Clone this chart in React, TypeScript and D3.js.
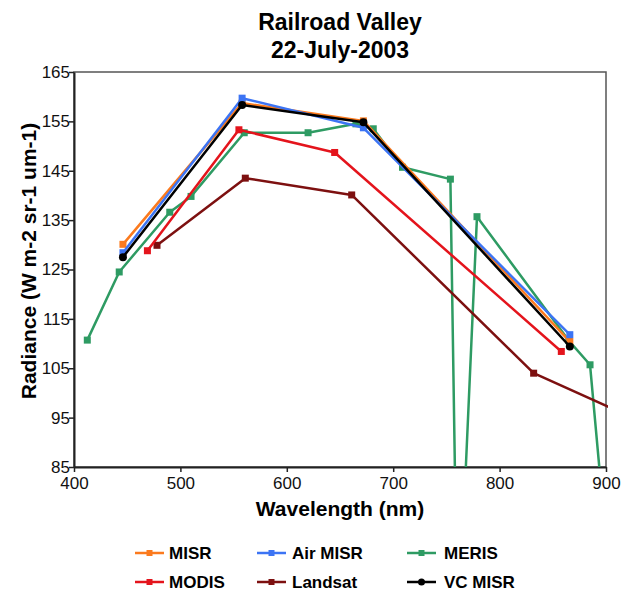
import React, { useEffect, useRef } from "react";
import * as d3 from "d3";

// wavelengths (nm) and radiances (W m-2 sr-1 um-1)
const misrWl = [446, 558, 672, 866];
const misrVal = [130.1, 158.7, 155.1, 110.4];
const airMisrVal = [128.4, 159.7, 153.7, 111.8];
const vcMisrVal = [127.5, 158.3, 154.8, 109.4];
const modisWl = [469, 555, 645, 858];
const modisVal = [128.8, 153.3, 148.7, 108.4];
const landsatWl = [478, 561, 661, 832, 1650];
const landsatVal = [129.9, 143.5, 140.1, 104.0, 24.6];
const merisWl = [412.5, 442.5, 490, 510, 560, 620, 665, 681.25, 708.75, 753.75, 760.625, 778.75, 865, 885, 900];
const merisVal = [110.7, 124.5, 136.6, 139.8, 152.7, 152.7, 154.5, 153.5, 145.7, 143.3, 48, 135.7, 110.6, 105.7, 70];

const xTicks = [400, 500, 600, 700, 800, 900];
const yTicks = [85, 95, 105, 115, 125, 135, 145, 155, 165];

type Series = { name: string; color: string; marker: "square" | "circle"; wl: number[]; val: number[] };

const series: Series[] = [
  { name: "MERIS", color: "#2e9b63", marker: "square", wl: merisWl, val: merisVal },
  { name: "Landsat", color: "#7d1010", marker: "square", wl: landsatWl, val: landsatVal },
  { name: "MODIS", color: "#e4141c", marker: "square", wl: modisWl, val: modisVal },
  { name: "MISR", color: "#fb7a1e", marker: "square", wl: misrWl, val: misrVal },
  { name: "Air MISR", color: "#3c74f4", marker: "square", wl: misrWl, val: airMisrVal },
  { name: "VC MISR", color: "#000000", marker: "circle", wl: misrWl, val: vcMisrVal },
];

// legend layout: rows of names
const legendRows = [
  ["MISR", "Air MISR", "MERIS"],
  ["MODIS", "Landsat", "VC MISR"],
];

export default function App() {
  const ref = useRef<SVGSVGElement>(null);

  useEffect(() => {
    const svg = d3.select(ref.current);
    svg.selectAll("*").remove();

    const width = 628;
    const height = 591;
    const margin = { top: 72, left: 74, right: 22, bottom: 124 };
    const font = "'Liberation Sans', Arial, Helvetica, sans-serif";

    const x = d3.scaleLinear().domain([400, 900]).range([margin.left, width - margin.right]);
    const y = d3.scaleLinear().domain([85, 165]).range([height - margin.bottom, margin.top]);

    svg.append("rect").attr("width", width).attr("height", height).attr("fill", "#fff");

    // title
    const title = svg.append("text")
      .attr("x", 340).attr("text-anchor", "middle")
      .style("font-family", font).style("font-weight", "bold").style("font-size", "23px");
    title.append("tspan").attr("x", 340).attr("y", 30).text("Railroad Valley");
    title.append("tspan").attr("x", 340).attr("y", 58).text("22-July-2003");

    // frame
    svg.append("rect")
      .attr("x", x(400)).attr("y", y(165))
      .attr("width", x(900) - x(400)).attr("height", y(85) - y(165))
      .attr("fill", "none").attr("stroke", "#555").attr("stroke-width", 1.5);

    const xAxis = svg.append("g")
      .attr("transform", `translate(0,${y(85)})`)
      .call(d3.axisBottom(x).tickValues(xTicks).tickSize(5).tickSizeOuter(0).tickFormat(d3.format("d")));
    const yAxis = svg.append("g")
      .attr("transform", `translate(${x(400)},0)`)
      .call(d3.axisLeft(y).tickValues(yTicks).tickSize(5).tickSizeOuter(0).tickFormat(d3.format("d")));
    [xAxis, yAxis].forEach((g) => {
      g.select(".domain").attr("stroke", "#222").attr("stroke-width", 2);
      g.selectAll(".tick line").attr("stroke", "#222").attr("stroke-width", 1.5);
      g.selectAll(".tick text")
        .attr("fill", "#111")
        .style("font-family", font).style("font-size", "17px");
    });
    xAxis.selectAll(".tick text").attr("dy", "0.85em");
    yAxis.selectAll(".tick text").attr("x", -4);

    // axis titles
    svg.append("text")
      .attr("x", 340).attr("y", 516).attr("text-anchor", "middle")
      .style("font-family", font).style("font-weight", "bold").style("font-size", "21px")
      .text("Wavelength (nm)");
    svg.append("text")
      .attr("transform", `translate(36,261) rotate(-90)`)
      .attr("text-anchor", "middle")
      .style("font-family", font).style("font-weight", "bold").style("font-size", "21px")
      .text("Radiance (W m-2 sr-1 um-1)");

    // clip to plot area
    svg.append("clipPath").attr("id", "plotClip")
      .append("rect")
      .attr("x", x(400)).attr("y", y(165))
      .attr("width", x(900) - x(400) + 2).attr("height", y(85) - y(165));

    const plot = svg.append("g").attr("clip-path", "url(#plotClip)");
    const line = d3.line<[number, number]>().x((d) => x(d[0])).y((d) => y(d[1]));

    series.forEach((s) => {
      const pts: [number, number][] = s.wl.map((w, i) => [w, s.val[i]]);
      plot.append("path")
        .attr("d", line(pts))
        .attr("fill", "none")
        .attr("stroke", s.color)
        .attr("stroke-width", 2.5)
        .attr("stroke-linejoin", "round");
      const visible = pts.filter((p) => p[1] >= 85 && p[0] <= 900);
      if (s.marker === "circle") {
        plot.selectAll(null).data(visible).join("circle")
          .attr("cx", (d) => x(d[0])).attr("cy", (d) => y(d[1]))
          .attr("r", 4).attr("fill", s.color);
      } else {
        plot.selectAll(null).data(visible).join("rect")
          .attr("x", (d) => x(d[0]) - 3.5).attr("y", (d) => y(d[1]) - 3.5)
          .attr("width", 7).attr("height", 7).attr("fill", s.color);
      }
    });

    // legend
    const colX = [135, 257, 407];
    const rowY = [553, 582];
    legendRows.forEach((row, ri) => {
      row.forEach((name, ci) => {
        const s = series.find((d) => d.name === name)!;
        const g = svg.append("g").attr("transform", `translate(${colX[ci]},${rowY[ri]})`);
        g.append("line").attr("x1", 0).attr("x2", 29).attr("y1", 0).attr("y2", 0)
          .attr("stroke", s.color).attr("stroke-width", 2.5);
        if (s.marker === "circle") {
          g.append("circle").attr("cx", 14.5).attr("cy", 0).attr("r", 3.5).attr("fill", s.color);
        } else {
          g.append("rect").attr("x", 11.5).attr("y", -3).attr("width", 6).attr("height", 6).attr("fill", s.color);
        }
        g.append("text")
          .attr("x", ci === 0 ? 34 : ci === 1 ? 35 : 37).attr("y", 6)
          .style("font-family", font).style("font-weight", "bold").style("font-size", "17px")
          .text(name);
      });
    });
  }, []);

  return (
    <svg
      ref={ref}
      width={628}
      height={591}
      style={{ position: "absolute", left: 0, top: 0, display: "block" }}
    />
  );
}
